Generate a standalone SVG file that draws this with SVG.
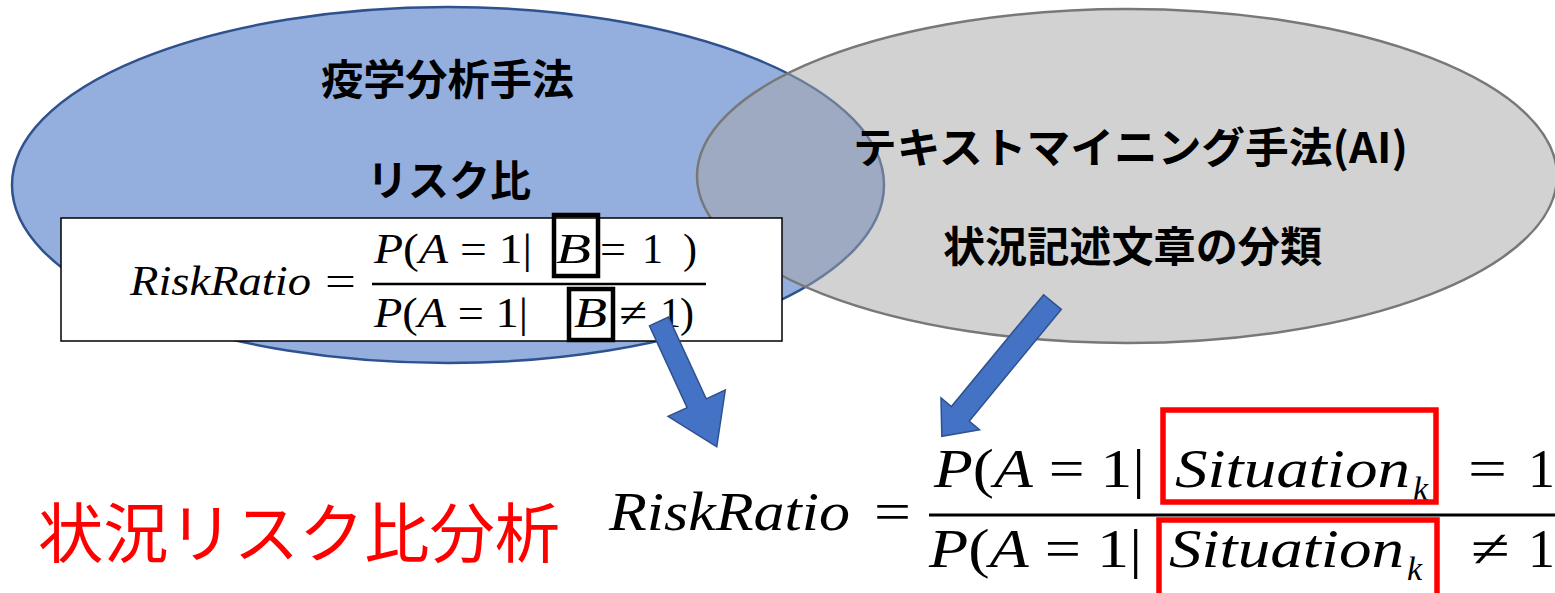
<svg xmlns="http://www.w3.org/2000/svg" width="1555" height="593" viewBox="0 0 1555 593">
<style>
.jp{font-family:"Noto Sans CJK JP","Noto Sans CJK SC",sans-serif;font-weight:bold;font-size:42px;fill:#000;text-anchor:middle}
.red{font-family:"Noto Sans CJK JP","Noto Sans CJK SC",sans-serif;font-size:65px;fill:#FF0000}
.m{font-family:"Liberation Serif","Times New Roman",serif;fill:#000}
.s{font-size:42px}
.b{font-size:54px}
.i{font-style:italic}
.arrow{fill:#4472C4;stroke:#2F528F;stroke-width:1.5;stroke-linejoin:miter}
</style>
<rect width="1555" height="593" fill="#FFFFFF"/>
<g id="node-epi">
<ellipse cx="448" cy="185" rx="436" ry="178" fill="#94AFDD" stroke="#2F528F" stroke-width="2.5"/>
</g>
<g id="node-textmining">
<ellipse cx="1127" cy="176" rx="430" ry="167" fill="#A5A5A5" fill-opacity="0.5" stroke="#787878" stroke-width="2.5"/>
<text class="jp" x="1130.5" y="163" textLength="555" lengthAdjust="spacingAndGlyphs">テキストマイニング手法(AI)</text>
<text class="jp" x="1132.5" y="262" textLength="379" lengthAdjust="spacingAndGlyphs">状況記述文章の分類</text>
</g>
<g id="node-epi-labels">
<text class="jp" x="447.5" y="95" textLength="253" lengthAdjust="spacingAndGlyphs">疫学分析手法</text>
<text class="jp" x="449" y="196" textLength="164" lengthAdjust="spacingAndGlyphs">リスク比</text>
</g>
<g id="node-formula-box">
<rect x="61" y="218" width="721" height="123" fill="#FFFFFF" stroke="#000" stroke-width="1.5"/>
<text class="m s i" x="130" y="295" textLength="181" lengthAdjust="spacingAndGlyphs">RiskRatio</text>
<text class="m s" x="325" y="295" textLength="31" lengthAdjust="spacingAndGlyphs">=</text>
<line x1="372" y1="284" x2="706" y2="284" stroke="#000" stroke-width="2.5"/>
<text class="m s" x="374" y="263" textLength="158" lengthAdjust="spacingAndGlyphs"><tspan class="i">P</tspan>(<tspan class="i">A</tspan> = 1|</text>
<text class="m s i" x="556" y="263" textLength="35" lengthAdjust="spacingAndGlyphs">B</text>
<text class="m s" x="600" y="263" textLength="26" lengthAdjust="spacingAndGlyphs">=</text>
<text class="m s" x="642" y="263">1</text>
<text class="m s" x="683" y="263">)</text>
<text class="m s" x="374" y="327" textLength="154" lengthAdjust="spacingAndGlyphs"><tspan class="i">P</tspan>(<tspan class="i">A</tspan> = 1|</text>
<text class="m s i" x="574" y="327" textLength="33" lengthAdjust="spacingAndGlyphs">B</text>
<text class="m s" x="619" y="327" textLength="28" lengthAdjust="spacingAndGlyphs">≠</text>
<text class="m s" x="660" y="327">1</text>
<text class="m s" x="680" y="327">)</text>
<rect x="554" y="215" width="44" height="61" fill="none" stroke="#000" stroke-width="4.5"/>
<rect x="569" y="289" width="44" height="51" fill="none" stroke="#000" stroke-width="4.5"/>
</g>
<g id="connectors">
<polygon class="arrow" transform="translate(659,321.5) rotate(65.26)" points="0,-10.5 90,-10.5 90,-31.5 138,0 90,31.5 90,10.5 0,10.5"/>
<polygon class="arrow" transform="translate(1052.5,302) rotate(129.5)" points="0,-11.5 145,-11.5 145,-25 174,0 145,25 145,11.5 0,11.5"/>
</g>
<g id="node-situation-risk">
<text class="red" x="38" y="557" textLength="522" lengthAdjust="spacingAndGlyphs">状況リスク比分析</text>
</g>
<g id="node-formula-main">
<text class="m b i" x="609" y="530" textLength="241" lengthAdjust="spacingAndGlyphs">RiskRatio</text>
<text class="m b" x="874" y="530" textLength="37" lengthAdjust="spacingAndGlyphs">=</text>
<line x1="929" y1="515" x2="1555" y2="515" stroke="#000" stroke-width="3"/>
<text class="m b" x="934" y="487" textLength="211" lengthAdjust="spacingAndGlyphs"><tspan class="i">P</tspan>(<tspan class="i">A</tspan> = 1|</text>
<text class="m b i" x="1175" y="487" textLength="235" lengthAdjust="spacingAndGlyphs">Situation</text>
<text class="m i" x="1413" y="500" font-size="34">k</text>
<text class="m b" x="1468" y="487" textLength="39" lengthAdjust="spacingAndGlyphs">=</text>
<text class="m b" x="1528" y="487">1</text>
<text class="m b" x="929" y="567" textLength="213" lengthAdjust="spacingAndGlyphs"><tspan class="i">P</tspan>(<tspan class="i">A</tspan> = 1|</text>
<text class="m b i" x="1169" y="567" textLength="235" lengthAdjust="spacingAndGlyphs">Situation</text>
<text class="m i" x="1407" y="580" font-size="34">k</text>
<text class="m b" x="1471" y="567" textLength="39" lengthAdjust="spacingAndGlyphs">≠</text>
<text class="m b" x="1528" y="567">1</text>
<rect x="1163" y="410" width="273" height="92" fill="none" stroke="#FF0000" stroke-width="5.5"/>
<rect x="1159" y="520" width="278" height="76" fill="none" stroke="#FF0000" stroke-width="5.5"/>
</g>
</svg>
